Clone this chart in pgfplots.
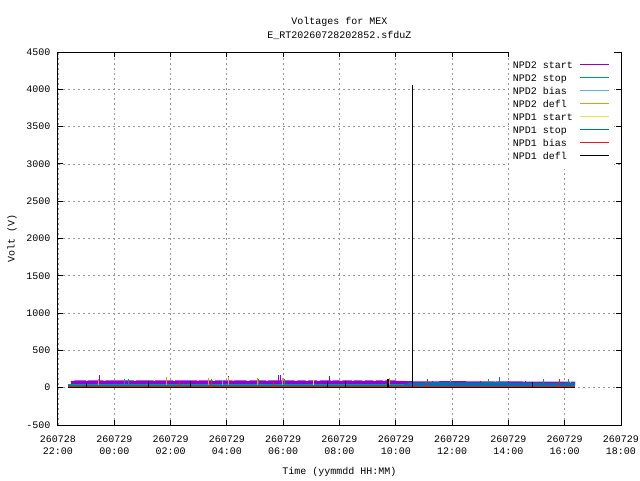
\documentclass[border=0pt]{standalone}
\usepackage{pgfplots}
\pgfplotsset{compat=1.18}
\usepackage{fontspec}
\setmainfont{Liberation Mono}
\definecolor{gpPurple}{HTML}{9400D3}
\definecolor{gpGreen}{HTML}{009E73}
\definecolor{gpSky}{HTML}{56B4E9}
\definecolor{gpOrange}{HTML}{E69F00}
\definecolor{gpYellow}{HTML}{F0E442}
\definecolor{gpBlue}{HTML}{0072B2}
\definecolor{gpRed}{HTML}{E51E10}
\begin{document}
\begin{tikzpicture}
\useasboundingbox (-58pt,-55pt) rectangle (582pt,425pt);
\begin{axis}[
  at={(0pt,0pt)}, anchor=south west,
  scale only axis, width=563pt, height=373pt,
  xmin=0, xmax=20, ymin=-500, ymax=4500,
  xtick={0,2,...,20},
  xticklabels={{260728\\22:00},{260729\\00:00},{260729\\02:00},{260729\\04:00},{260729\\06:00},{260729\\08:00},{260729\\10:00},{260729\\12:00},{260729\\14:00},{260729\\16:00},{260729\\18:00}},
  ytick={-500,0,500,1000,1500,2000,2500,3000,3500,4000,4500},
  yticklabels={-500,0,500,1000,1500,2000,2500,3000,3500,4000,4500},
  grid=major,
  grid style={black!40, dash pattern=on 2pt off 3pt, line width=0.8pt},
  axis line style={line width=1pt},
  major tick length=5pt,
  tick style={black, line width=1pt},
  tick align=inside,
  font=\fontsize{10}{12}\selectfont,
  xticklabel style={align=center, font=\fontsize{10}{12.5}\selectfont, yshift=-7pt},
  yticklabel style={xshift=-4pt},
  title={Voltages for MEX\\E\_RT20260728202852.sfduZ},
  title style={at={(axis description cs:0.5,1)}, anchor=center, yshift=18pt, align=center, font=\fontsize{10}{14}\selectfont},
  xlabel={Time (yymmdd HH:MM)},
  xlabel style={at={(axis description cs:0.5,0)}, anchor=center, yshift=-47pt},
  ylabel={Volt (V)},
  ylabel style={at={(axis description cs:0,0.5)}, anchor=center, rotate=0, yshift=46pt},
  unbounded coords=jump,
  legend plot pos=right,
  legend cell align=left,
  legend image code/.code={\draw[#1, line width=1pt] (0pt,0.5pt) -- (29pt,0.5pt);},
  legend style={at={(1,1)}, anchor=north east, xshift=-7pt, fill=white, draw=none,
    inner xsep=4pt, inner ysep=8pt, row sep=3pt, column sep=7pt,
    nodes={inner sep=0pt, text height=8pt, text depth=2pt},
    font=\fontsize{10}{12}\selectfont},
]
\addlegendimage{gpPurple}\addlegendentry{NPD2 start}
\addlegendimage{gpGreen}\addlegendentry{NPD2 stop}
\addlegendimage{gpSky}\addlegendentry{NPD2 bias}
\addlegendimage{gpOrange}\addlegendentry{NPD2 defl}
\addlegendimage{gpYellow}\addlegendentry{NPD1 start}
\addlegendimage{gpBlue}\addlegendentry{NPD1 stop}
\addlegendimage{gpRed}\addlegendentry{NPD1 bias}
\addlegendimage{black}\addlegendentry{NPD1 defl}

% NPD2 start: dense band
\addplot[fill=gpPurple, draw=none, forget plot] coordinates {
(0.46,40)(0.46,92)(0.58,92)(0.58,98)(1.00,98)(1.00,89)(1.05,89)(1.05,98)(1.62,98)(1.62,90)
(1.68,90)(1.68,98)(2.70,98)(2.70,89)(2.76,89)(2.76,98)(3.40,98)(3.40,90)(3.45,90)(3.45,98)
(4.10,98)(4.10,88)(4.16,88)(4.16,98)(4.95,98)(4.95,90)(5.00,90)(5.00,98)(5.50,98)(5.50,88)
(5.58,88)(5.58,98)(6.20,98)(6.20,90)(6.25,90)(6.25,98)(6.70,98)(6.70,89)(6.80,89)(6.80,98)
(7.40,98)(7.40,88)(7.45,88)(7.45,98)(8.40,98)(8.40,90)(8.50,90)(8.50,98)(8.80,98)(8.80,88)
(8.88,88)(8.88,98)(9.20,98)(9.20,90)(9.30,90)(9.30,98)(9.70,98)(9.70,88)(9.75,88)(9.75,98)
(10.00,98)(10.00,90)(10.10,90)(10.10,98)(10.45,98)(10.45,88)(10.50,88)(10.50,98)(10.80,98)
(10.80,90)(10.90,90)(10.90,98)(11.20,98)(11.20,88)(11.30,88)(11.30,98)(11.55,98)(11.55,90)
(11.62,90)(11.62,98)(12.00,98)(12.00,92)(12.30,92)(12.30,88)(12.60,88)(12.60,86)(13.50,86)
(13.50,84)(13.55,84)(13.55,88)(14.50,88)(14.50,84)(15.50,84)(15.50,82)(15.55,82)(15.55,86)
(16.50,86)(16.50,82)(17.50,82)(17.50,80)(18.37,80)(18.37,40)};
\addplot[gpPurple, line width=1pt, forget plot] coordinates {
(1.48,40)(1.48,175)(1.48,nan)(6.04,40)(6.04,160)(6.04,nan)(7.82,40)(7.82,165)(7.82,nan)
(7.92,40)(7.92,165)(7.92,nan)(9.63,40)(9.63,160)(9.63,nan)(13.30,40)(13.30,95)(13.30,nan)
(14.20,40)(14.20,95)(14.20,nan)(15.00,40)(15.00,92)(15.00,nan)(16.00,40)(16.00,90)(16.00,nan)
(16.60,40)(16.60,90)};

% NPD2 stop
\addplot[gpGreen, line width=1pt, forget plot] coordinates {(0.36,38)(12.30,38)};
\addplot[gpGreen, line width=1pt, forget plot] coordinates {
(2.38,38)(2.38,110)(2.38,nan)(2.52,38)(2.52,110)(2.52,nan)(5.47,38)(5.47,110)(5.47,nan)
(7.14,38)(7.14,110)(7.14,nan)(8.03,38)(8.03,120)(8.03,nan)(15.28,38)(15.28,110)(15.28,nan)
(17.23,38)(17.23,110)(17.23,nan)(18.15,38)(18.15,110)};

% NPD2 bias
\addplot[gpSky, line width=1pt, forget plot] coordinates {
(5.86,40)(5.86,105)(5.86,nan)(13.93,40)(13.93,122)};

% NPD2 defl
\addplot[gpOrange, line width=1pt, forget plot] coordinates {
(1.456,10)(1.456,110)(1.456,nan)(3.84,10)(3.84,150)(3.84,nan)(5.36,10)(5.36,135)(5.36,nan)
(6.07,10)(6.07,150)(6.07,nan)(7.07,10)(7.07,135)(7.07,nan)(7.96,10)(7.96,135)(7.96,nan)
(11.76,10)(11.76,130)};

% NPD1 start
\addplot[gpYellow, line width=1pt, forget plot] coordinates {
(9.09,40)(9.09,100)(9.09,nan)(18.22,40)(18.22,90)};

% NPD1 stop
\addplot[gpBlue, line width=1pt, forget plot] coordinates {(0.36,30)(18.37,30)};
\addplot[fill=gpBlue, draw=none, forget plot] coordinates {
(12.30,30)(12.30,55)(12.45,55)(12.45,72)(13.00,72)(13.00,70)(13.05,70)(13.05,74)(14.00,74)
(14.00,72)(15.00,72)(15.00,70)(15.05,70)(15.05,74)(16.00,74)(16.00,68)(17.00,68)(17.00,66)
(18.00,66)(18.00,68)(18.37,68)(18.37,30)};
\addplot[gpBlue, line width=1pt, forget plot] coordinates {(15.70,30)(15.70,140)};

% NPD1 bias
\addplot[gpRed, line width=1pt, forget plot] coordinates {(0.36,18)(18.37,18)};
\addplot[gpRed, line width=1pt, forget plot] coordinates {
(4.30,18)(4.30,75)(4.30,nan)(5.47,18)(5.47,75)(5.47,nan)(7.67,18)(7.67,75)(7.67,nan)
(13.14,18)(13.14,110)(13.14,nan)(17.83,18)(17.83,110)};

% NPD1 defl
\addplot[black, line width=1pt, forget plot] coordinates {(0.36,0)(18.37,0)};
\addplot[black, line width=1pt, forget plot] coordinates {
(0.995,0)(0.995,60)(0.995,nan)(3.20,0)(3.20,87)(3.20,nan)(4.72,0)(4.72,87)(4.72,nan)
(9.59,0)(9.59,93)(9.59,nan)(10.23,0)(10.23,87)(10.23,nan)(11.70,0)(11.70,120)(11.70,nan)
(11.74,0)(11.74,120)(11.74,nan)(12.61,0)(12.61,4060)(12.61,nan)(16.87,0)(16.87,82)};
\end{axis}
\end{tikzpicture}
\end{document}
